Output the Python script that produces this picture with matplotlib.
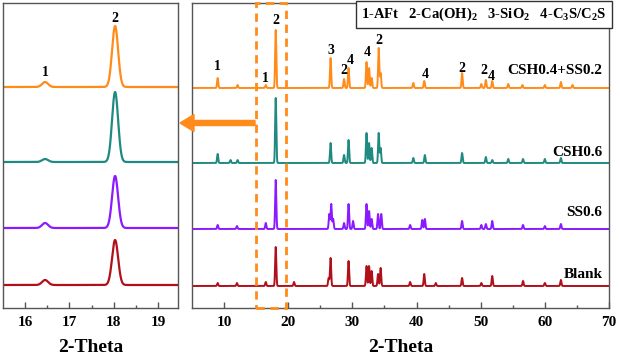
import numpy as np
import matplotlib
matplotlib.use("Agg")
import matplotlib.pyplot as plt
from matplotlib.patches import Rectangle, FancyArrow

plt.rcParams['font.family'] = ['Liberation Serif', 'DejaVu Serif']
plt.rcParams['font.weight'] = 'bold'
plt.rcParams['mathtext.fontset'] = 'custom'
plt.rcParams['mathtext.rm'] = 'Liberation Serif:bold'
plt.rcParams['mathtext.bf'] = 'Liberation Serif:bold'
plt.rcParams['mathtext.it'] = 'Liberation Serif:bold'

# ---- data (peak positions in 2-theta, heights in display units) ----
series_names = ['CSH0.4+SS0.2', 'CSH0.6', 'SS0.6', 'Blank']
colors = ['#FF8C1A', '#1F8A82', '#8B1AFF', '#B0101A']
offsets_full = [220, 145, 79, 22]
offsets_zoom = [221, 146, 80, 23]

pos_orange = [9.0, 12.1, 16.5, 18.05, 26.6, 28.7, 29.4, 32.2, 32.6, 33.0, 34.1, 34.4, 39.5, 41.2, 47.1, 50.1, 50.8, 51.8, 54.3, 56.5, 60.0, 62.5, 64.3]
h_orange   = [10, 3, 3, 58, 30, 9, 20, 26, 20, 10, 40, 15, 5, 7, 15, 4, 8, 7, 4, 3, 3, 6, 3]
pos_teal = [9.0, 11.0, 12.1, 18.05, 26.6, 28.7, 29.4, 32.2, 32.6, 33.0, 34.1, 34.4, 39.5, 41.3, 47.1, 50.8, 51.8, 54.3, 56.6, 60.0, 62.5]
h_teal   = [9, 3, 3, 65, 20, 8, 23, 30, 20, 15, 30, 15, 5, 8, 10, 6, 3, 4, 4, 4, 5]
pos_purple = [9.0, 12.0, 16.5, 18.05, 26.4, 26.7, 27.0, 28.7, 29.4, 30.1, 32.2, 32.6, 33.0, 34.0, 34.5, 39.0, 40.9, 41.3, 47.1, 50.1, 50.8, 51.8, 56.6, 60.0, 62.5]
h_purple   = [4, 3, 6, 49, 15, 25, 10, 6, 25, 8, 25, 18, 10, 15, 15, 4, 9, 10, 8, 4, 5, 8, 4, 3, 5]
pos_red = [9.0, 12.0, 16.5, 18.05, 20.9, 26.3, 26.6, 29.4, 32.2, 32.6, 33.0, 34.0, 34.4, 39.0, 41.2, 43.0, 47.1, 50.1, 51.8, 56.6, 60.0, 62.5]
h_red   = [3, 3, 4, 39, 4, 8, 28, 25, 20, 20, 15, 12, 18, 4, 12, 3, 8, 3, 10, 5, 3, 6]
full_pos = [pos_orange, pos_teal, pos_purple, pos_red]
full_h = [h_orange, h_teal, h_purple, h_red]

zoom_pos = [16.45, 18.03]
zoom_h_orange = [5, 61]
zoom_h_teal = [3, 70]
zoom_h_purple = [5, 52]
zoom_h_red = [5, 45]
zoom_h = [zoom_h_orange, zoom_h_teal, zoom_h_purple, zoom_h_red]

peak_labels_full_x = [9.0, 16.5, 18.05, 26.6, 28.7, 29.6, 32.3, 34.2, 41.3, 47.1, 50.5, 51.7]
peak_labels_full_y = [241, 230, 288, 258, 238, 248, 255, 268, 233, 239, 238, 232]
peak_labels_full_t = ['1', '1', '2', '3', '2', '4', '4', '2', '4', '2', '2', '4']
peak_labels_zoom_x = [16.45, 18.03]
peak_labels_zoom_y = [235, 290]
peak_labels_zoom_t = ['1', '2']

legend_text = r'1-AFt   2-Ca(OH)$_2$   3-SiO$_2$   4-C$_3$S/C$_2$S'


def profile(x, pos, h, sigma):
    y = np.zeros_like(x)
    for p, a in zip(pos, h):
        y += a * np.exp(-0.5 * ((x - p) / sigma) ** 2)
    return y


fig = plt.figure(figsize=(6.2, 3.62), dpi=100)
axL = fig.add_axes([3 / 620, 54 / 362, 175 / 620, 305 / 362])
axR = fig.add_axes([192 / 620, 54 / 362, 417 / 620, 305 / 362])

xl = np.linspace(15.5, 19.45, 2000)
for i in range(4):
    axL.plot(xl, offsets_zoom[i] + profile(xl, zoom_pos, zoom_h[i], 0.068),
             color=colors[i], lw=1.6)
xr = np.linspace(5, 70, 8000)
for i in range(4):
    axR.plot(xr, offsets_full[i] + profile(xr, full_pos[i], full_h[i], 0.09),
             color=colors[i], lw=1.4)

for ax in (axL, axR):
    ax.set_ylim(0, 305)
    ax.set_yticks([])
    for s in ax.spines.values():
        s.set_color('#555555')
        s.set_linewidth(1.0)
    ax.tick_params(axis='x', direction='in', length=4, width=1, color='#555555',
                   labelsize=11, pad=6)
    ax.tick_params(axis='x', which='minor', direction='in', length=2.5, width=1, color='#555555')
    ax.set_xlabel('2-Theta', fontsize=14, fontweight='bold', labelpad=7)

axL.set_xlim(15.5, 19.45)
axL.set_xticks([16, 17, 18, 19])
axL.set_xticks([16.5, 17.5, 18.5], minor=True)
axR.set_xlim(5, 70)
axR.set_xticks([10, 20, 30, 40, 50, 60, 70])
axR.set_xticks([15, 25, 35, 45, 55, 65], minor=True)
for ax in (axL, axR):
    for lab in ax.get_xticklabels():
        lab.set_fontweight('bold')

for x, y, t in zip(peak_labels_full_x, peak_labels_full_y, peak_labels_full_t):
    axR.text(x, y, t, ha='center', va='center', fontsize=10, fontweight='bold')
for x, y, t in zip(peak_labels_zoom_x, peak_labels_zoom_y, peak_labels_zoom_t):
    axL.text(x, y, t, ha='center', va='center', fontsize=10, fontweight='bold')

name_y = [238, 156, 95, 33]
for n, y in zip(series_names, name_y):
    axR.text(69, y, n, ha='right', va='center', fontsize=11, fontweight='bold')

axR.text(0.994, 0.99, legend_text, transform=axR.transAxes, ha='right', va='top',
         fontsize=10.5, fontweight='bold',
         bbox=dict(boxstyle='square,pad=0.35', fc='white', ec='#333333', lw=1.0))

axR.add_patch(Rectangle((15, 0), 4.7, 305, fill=False, ec='#FF8C1A', lw=2.0,
                        ls=(0, (3, 2)), clip_on=False, zorder=5))

fig.patches.append(FancyArrow(255 / 620, 1 - 123 / 362, -(255 - 180) / 620, 0,
                              width=5 / 362, head_width=17 / 362, head_length=14 / 620,
                              length_includes_head=True, color='#FF8C1A',
                              transform=fig.transFigure, figure=fig))

fig.savefig('out.png', dpi=100)
